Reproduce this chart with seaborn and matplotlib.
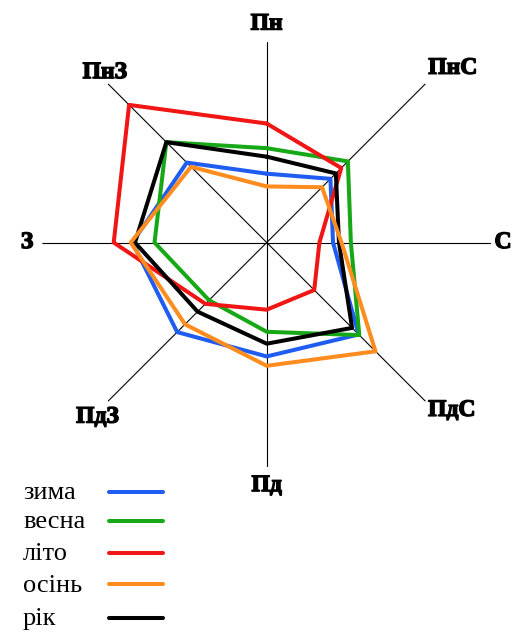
import numpy as np
import pandas as pd
import matplotlib
matplotlib.use("Agg")
import matplotlib.pyplot as plt
import matplotlib.patheffects as pe
from matplotlib.lines import Line2D
import seaborn as sns

sns.set_style("white")
plt.rcParams['font.family'] = ['Liberation Serif', 'DejaVu Serif']
plt.rcParams['text.color'] = 'black'

# wind directions, clockwise from north
directions = ["Пн", "ПнС", "С", "ПдС", "Пд", "ПдЗ", "З", "ПнЗ"]
seasons = ["зима", "весна", "літо", "осінь", "рік"]

# repeatability of winds, %
zyma = [8.1, 10.6, 7.8, 15.3, 13.4, 14.9, 15.8, 13.3]
vesna = [11.1, 13.5, 9.9, 15.4, 10.5, 9.6, 13.2, 16.7]
lito = [14.0, 12.4, 6.2, 7.9, 7.9, 10.2, 18.0, 22.9]
osin = [6.6, 9.2, 8.8, 18.1, 14.5, 13.6, 16.0, 12.6]
rik = [10.1, 11.5, 8.5, 14.2, 11.9, 11.5, 15.5, 16.7]

colors = {"зима": "#1f5cf2", "весна": "#17a817", "літо": "#f01616",
          "осінь": "#ff8c1e", "рік": "#000000"}

values = {"зима": zyma, "весна": vesna, "літо": lito, "осінь": osin, "рік": rik}

angles = np.arange(len(directions)) * 2 * np.pi / len(directions)

rows = []
for s in seasons:
    vals = values[s] + values[s][:1]
    th = list(angles) + [2 * np.pi]
    for t, v in zip(th, vals):
        rows.append({"season": s, "theta": t, "r": v})
df = pd.DataFrame(rows)

R = 26.4
fig = plt.figure(figsize=(5.31, 6.36), dpi=100)
ax = fig.add_axes([0.0797, 0.2658, 0.8452, 0.7057], projection="polar")
ax.set_theta_zero_location("N")
ax.set_theta_direction(-1)

# spokes
spoke_len = [23.6, R, R, R, R, R, R, R]
for a, L in zip(angles, spoke_len):
    ax.plot([a, a], [0, L], color="black", lw=0.8, zorder=1)

draw_order = ["зима", "весна", "літо", "рік", "осінь"]
sns.lineplot(data=df, x="theta", y="r", hue="season", hue_order=draw_order,
             palette=colors, sort=False, estimator=None, lw=2.9,
             legend=False, ax=ax, zorder=2)

ax.set_ylim(0, R)
ax.axis("off")

# direction labels
lab_ang = [0, 46.9, 90, 132.2, 180, 224.1, 270, 316.4]
lab_r = [25.7, 30.0, 27.8, 29.4, 28.6, 28.6, 28.2, 27.6]
heavy = [pe.withStroke(linewidth=1.0, foreground="black")]
for name, a, r in zip(directions, lab_ang, lab_r):
    ax.text(np.deg2rad(a), r, name, ha="center", va="center", color="black",
            fontsize=17, fontweight="bold", clip_on=False, path_effects=heavy)

# legend drawn by hand: label on the left, line sample on the right
W, H = 531, 636
leg_y = [491.7, 521.0, 553.0, 584.0, 617.5]
for s, y in zip(seasons, leg_y):
    fig.text(23 / W, 1 - (y + 7.5) / H, s, ha="left", va="baseline",
             fontsize=19, color="black")
    fig.add_artist(Line2D([109 / W, 163 / W], [1 - y / H, 1 - y / H],
                          color=colors[s], lw=2.9, solid_capstyle="round"))

fig.savefig("out.png", dpi=100)
